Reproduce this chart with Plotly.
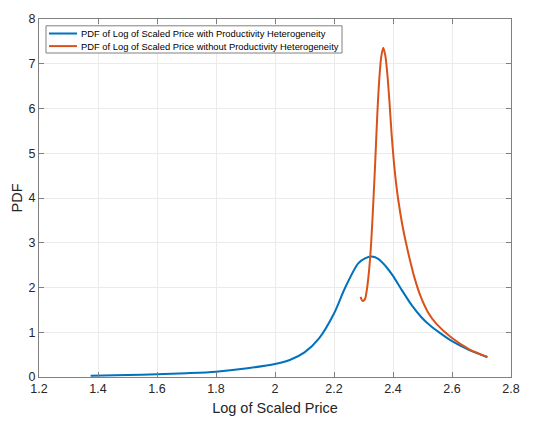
import plotly.graph_objects as go

# Blue: with productivity heterogeneity
x_with = [1.375, 1.5, 1.6, 1.7, 1.8, 1.9, 2.0, 2.05, 2.1, 2.15, 2.2, 2.238, 2.282, 2.305,
          2.326, 2.35, 2.376, 2.4, 2.431, 2.464, 2.497, 2.526, 2.56, 2.6, 2.659, 2.72]
y_with = [0.03, 0.045, 0.06, 0.085, 0.12, 0.19, 0.29, 0.38, 0.55, 0.87, 1.42, 2.0, 2.54, 2.65,
          2.69, 2.64, 2.47, 2.26, 1.93, 1.60, 1.33, 1.15, 0.98, 0.80, 0.60, 0.44]

# Orange: without productivity heterogeneity
x_without = [2.29, 2.297, 2.305, 2.31, 2.319, 2.326, 2.334, 2.340, 2.347, 2.354, 2.360, 2.367,
             2.374, 2.381, 2.388, 2.395, 2.403, 2.411, 2.418, 2.431, 2.444, 2.459, 2.475,
             2.492, 2.52, 2.548, 2.6, 2.659, 2.72]
y_without = [1.79, 1.70, 1.74, 1.89, 2.39, 3.0, 4.0, 4.84, 5.9, 6.7, 7.15, 7.36,
             7.18, 6.75, 6.15, 5.45, 4.8, 4.3, 3.95, 3.42, 3.0, 2.57, 2.17,
             1.83, 1.43, 1.18, 0.87, 0.62, 0.45]

series_names = ["PDF of Log of Scaled Price with Productivity Heterogeneity",
                "PDF of Log of Scaled Price without Productivity Heterogeneity"]
series_colors = ["#0072BD", "#D95319"]

x_ticks = [1.2, 1.4, 1.6, 1.8, 2.0, 2.2, 2.4, 2.6, 2.8]
x_tick_labels = ["1.2", "1.4", "1.6", "1.8", "2", "2.2", "2.4", "2.6", "2.8"]
y_ticks = [0, 1, 2, 3, 4, 5, 6, 7, 8]

fig = go.Figure()
fig.add_trace(go.Scatter(x=x_with, y=y_with, mode="lines", name=series_names[0],
                         showlegend=False,
                         line=dict(color=series_colors[0], width=2, shape="spline", smoothing=0.8)))
fig.add_trace(go.Scatter(x=x_without, y=y_without, mode="lines", name=series_names[1],
                         showlegend=False,
                         line=dict(color=series_colors[1], width=2, shape="spline", smoothing=0.8)))

axis_common = dict(showline=True, mirror="ticks", linecolor="#808080", linewidth=1,
                   ticks="inside", ticklen=5, tickcolor="#808080",
                   showgrid=True, gridcolor="#ebebeb", gridwidth=1, zeroline=False,
                   tickfont=dict(family="Liberation Sans, Arial", size=12.5, color="#262626"))

# Custom MATLAB-like legend box (compact rows)
legend_box = dict(x0=0.0148, x1=0.642, y0=0.905, y1=0.981)
row_y = [0.9595, 0.9243]
shapes = [dict(type="rect", xref="paper", yref="paper",
               x0=legend_box["x0"], x1=legend_box["x1"], y0=legend_box["y0"], y1=legend_box["y1"],
               line=dict(color="#808080", width=1), fillcolor="white", layer="above")]
annotations = []
for name, color, ry in zip(series_names, series_colors, row_y):
    shapes.append(dict(type="line", xref="paper", yref="paper", x0=0.0212, x1=0.0805,
                       y0=ry, y1=ry, line=dict(color=color, width=2), layer="above"))
    annotations.append(dict(xref="paper", yref="paper", x=0.0847, y=ry, xanchor="left",
                            yanchor="middle", text=name, showarrow=False,
                            font=dict(size=9.4, color="#000000", family="Liberation Sans, Arial")))

fig.update_layout(
    width=534, height=425,
    margin=dict(l=39, r=23, t=14, b=41),
    paper_bgcolor="white", plot_bgcolor="white",
    font=dict(family="Liberation Sans, Arial", color="#262626"),
    xaxis=dict(range=[1.2, 2.8], tickvals=x_ticks, ticktext=x_tick_labels,
               title=dict(text="Log of Scaled Price", font=dict(size=14.5), standoff=7),
               **axis_common),
    yaxis=dict(range=[0, 8], tickvals=y_ticks,
               title=dict(text="PDF", font=dict(size=14.5), standoff=2),
               **axis_common),
    shapes=shapes,
    annotations=annotations,
    showlegend=False,
)

fig.write_html("out.html")
